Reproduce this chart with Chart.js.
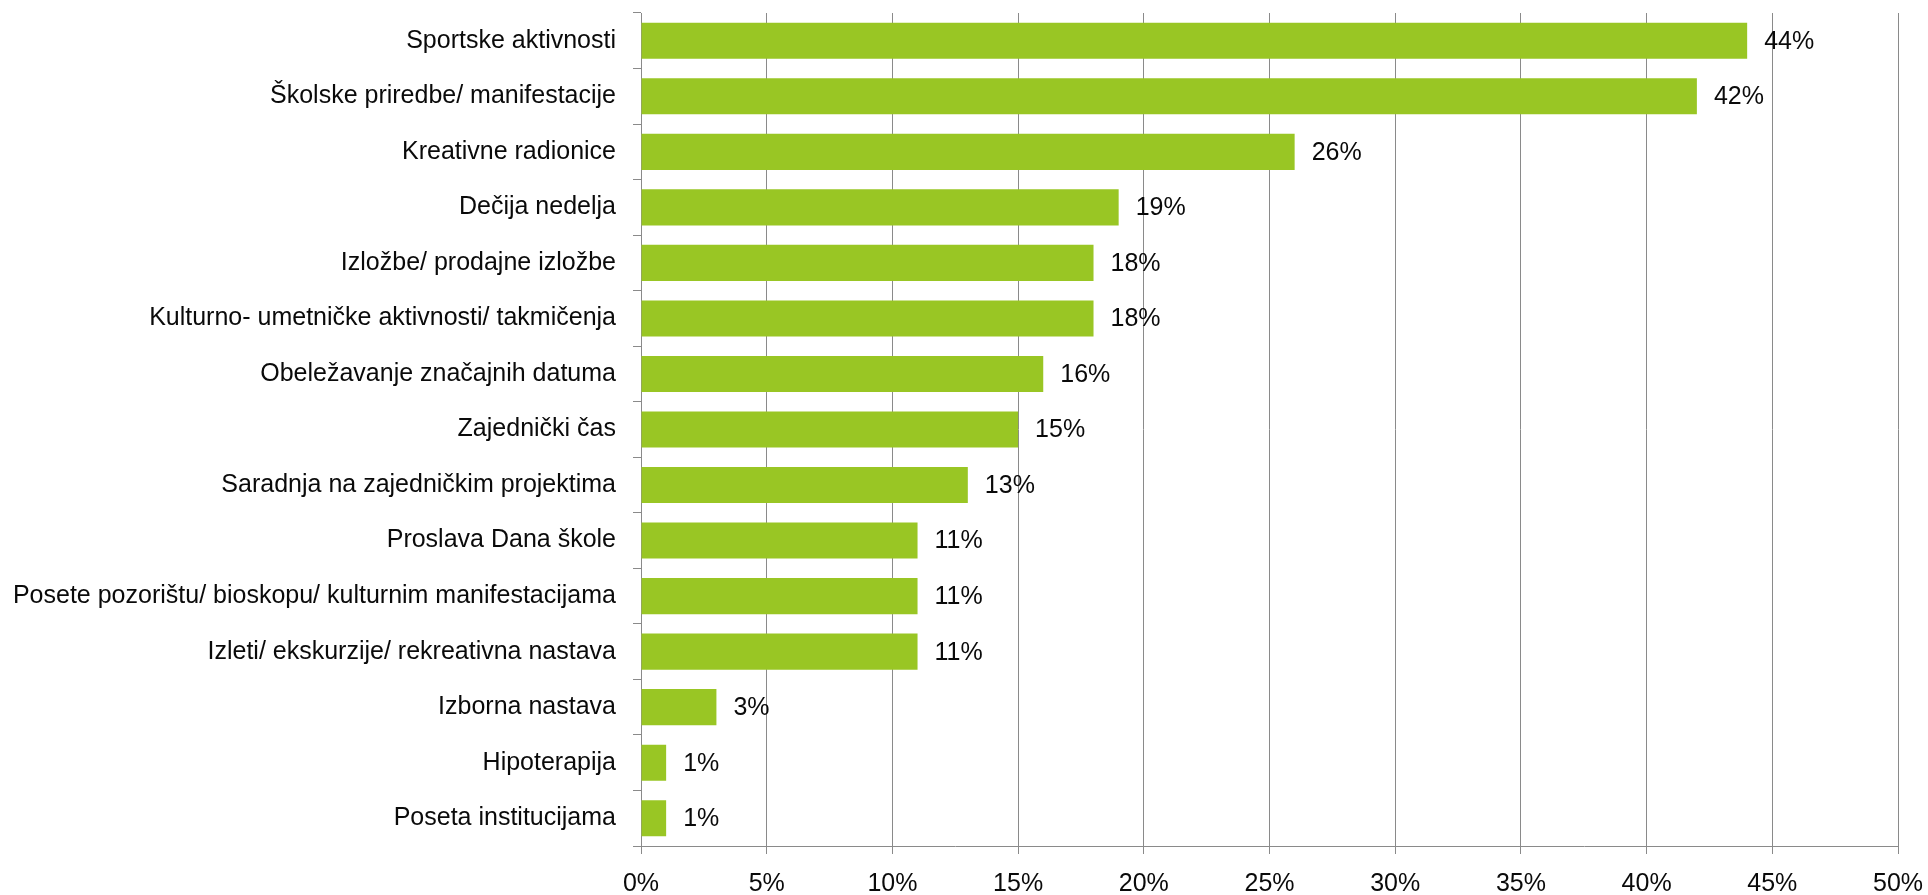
<!DOCTYPE html>
<html>
<head>
<meta charset="utf-8">
<script src="https://cdn.jsdelivr.net/npm/chart.js@4"></script>
<style>
  html,body{margin:0;padding:0;background:#fff;}
  #wrap{width:1928px;height:895px;position:relative;}
</style>
</head>
<body>
<div id="wrap"><canvas id="chart" width="1928" height="895"></canvas></div>
<script>
const categories = [
    "Sportske aktivnosti",
    "Školske priredbe/ manifestacije",
    "Kreativne radionice",
    "Dečija nedelja",
    "Izložbe/ prodajne izložbe",
    "Kulturno- umetničke aktivnosti/ takmičenja",
    "Obeležavanje značajnih datuma",
    "Zajednički čas",
    "Saradnja na zajedničkim projektima",
    "Proslava Dana škole",
    "Posete pozorištu/ bioskopu/ kulturnim manifestacijama",
    "Izleti/ ekskurzije/ rekreativna nastava",
    "Izborna nastava",
    "Hipoterapija",
    "Poseta institucijama"
];
const percents = [44,42,26,19,18,18,16,15,13,11,11,11,3,1,1];
const axisMax = 50;
const axisStep = 5;

const FONT = "'Liberation Sans', Arial, sans-serif";
const GRID = "#8a8a8a";

// value labels to the right of each bar
const valueLabels = {
    id:"valueLabels",
    afterDatasetsDraw(chart){
        const ctx = chart.ctx;
        const meta = chart.getDatasetMeta(0);
        ctx.save();
        ctx.font = "25px " + FONT;
        ctx.fillStyle = "#0a0a0a";
        ctx.textAlign = "left";
        ctx.textBaseline = "middle";
        meta.data.forEach((bar,i)=>{
            ctx.fillText(percents[i]+"%", bar.x+17, bar.y+1);
        });
        ctx.restore();
    }
};

const ctx = document.getElementById("chart").getContext("2d");
new Chart(ctx,{
    type:"bar",
    data:{
        labels:categories,
        datasets:[{
            data:percents,
            backgroundColor:"#99c624",
            borderWidth:0,
            barPercentage:0.65,
            categoryPercentage:1
        }]
    },
    options:{
        indexAxis:"y",
        responsive:false,
        animation:false,
        layout:{padding:{top:13,right:30,left:0,bottom:0}},
        plugins:{legend:{display:false},tooltip:{enabled:false}},
        scales:{
            x:{
                min:0,
                max:axisMax,
                afterFit(scale){
                    scale.height = 49;
                    scale.paddingLeft = 0;
                    scale.paddingRight = 0;
                },
                ticks:{
                    stepSize:axisStep,
                    callback:v=>v+"%",
                    color:"#0a0a0a",
                    padding:15,
                    font:{family:FONT,size:25}
                },
                grid:{color:GRID,lineWidth:1,tickLength:8,tickColor:GRID},
                border:{color:GRID,width:1}
            },
            y:{
                afterFit(scale){
                    scale.width = 641;
                    scale.paddingTop = 0;
                    scale.paddingBottom = 0;
                },
                ticks:{
                    color:"#0a0a0a",
                    padding:17,
                    font:{family:FONT,size:25}
                },
                grid:{drawOnChartArea:false,offset:true,tickLength:8,color:GRID},
                border:{color:GRID,width:1}
            }
        }
    },
    plugins:[valueLabels]
});
</script>
</body>
</html>
